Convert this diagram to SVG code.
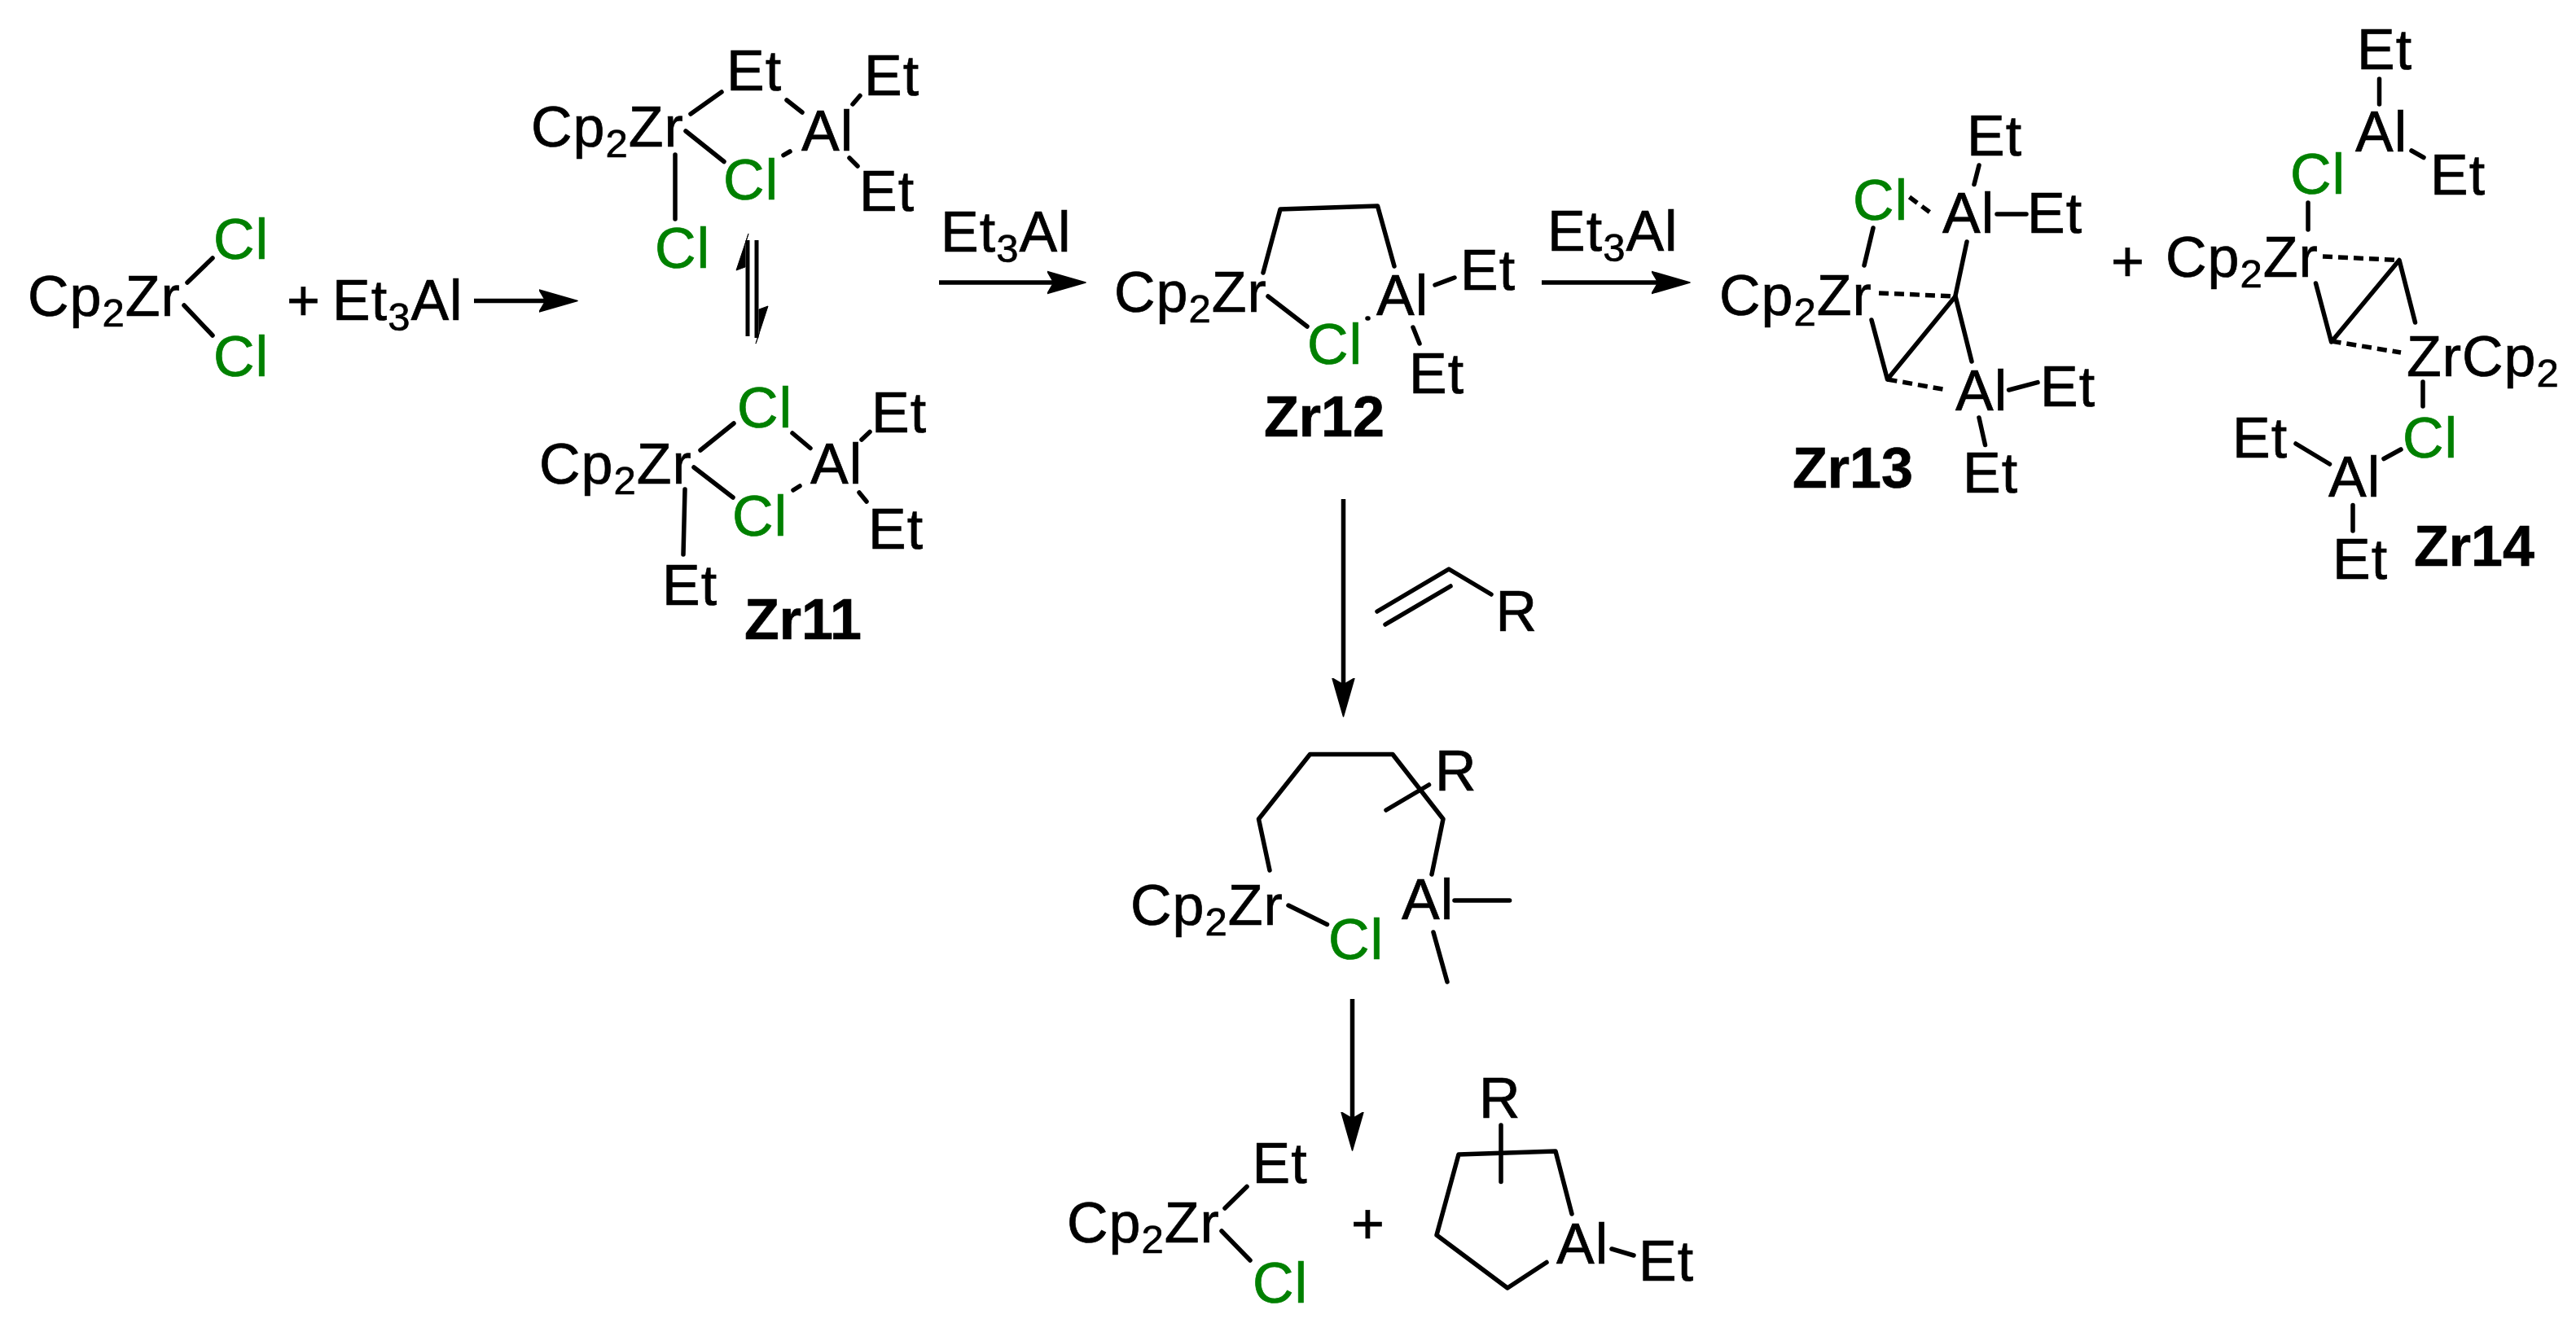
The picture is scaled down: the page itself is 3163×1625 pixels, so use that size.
<svg xmlns="http://www.w3.org/2000/svg" width="3163" height="1625" viewBox="0 0 3163 1625">
<style>
text{font-family:"Liberation Sans",Arial,sans-serif;font-size:70px;fill:#000;stroke:#000;stroke-width:.7px;letter-spacing:1px}
.g{fill:#008000;stroke:#008000}
.b{font-weight:700;letter-spacing:0}
.s{font-size:49px}
line,polyline{stroke:#000;stroke-width:5.5px;fill:none;stroke-linecap:round;stroke-linejoin:round}
.d{stroke-dasharray:12 7;stroke-linecap:butt}
.a{stroke-linecap:butt;marker-end:url(#h)}
</style>
<defs>
<marker id="h" markerUnits="userSpaceOnUse" markerWidth="60" markerHeight="40" viewBox="0 -20 60 40" refX="8" refY="0" orient="auto"><path d="M0-13.5L47 0L0 13.5L8 0Z" fill="#000" stroke="#000" stroke-width="1.5" stroke-linejoin="round"/></marker>
</defs>
<rect width="3163" height="1625" fill="#fff"/>
<g id="connectors">
<line class="a" x1="582" y1="369.5" x2="670" y2="369.5"/>
<line class="a" x1="1153" y1="347" x2="1294" y2="347"/>
<line class="a" x1="1893" y1="347" x2="2036" y2="347"/>
<line class="a" x1="1649.5" y1="613" x2="1649.5" y2="841"/>
<line class="a" x1="1660.5" y1="1227" x2="1660.5" y2="1374"/>
<line style="stroke-linecap:butt;stroke-width:5px" x1="918" y1="413" x2="918" y2="295"/><path d="M919 287L904 332L915 328V300Z" fill="#000" stroke="#000"/>
<line style="stroke-linecap:butt;stroke-width:5px" x1="929" y1="295" x2="929" y2="415"/><path d="M928 422L943 376L932 380V410Z" fill="#000" stroke="#000"/>
</g>
<g id="Cp2ZrCl2">
<text x="34" y="388">Cp<tspan class="s" dy="13">2</tspan><tspan dy="-13">Zr</tspan></text>
<text class="g" x="262" y="318">Cl</text>
<text class="g" x="262" y="462">Cl</text>
<line x1="230" y1="347" x2="261" y2="317"/>
<line x1="226" y1="375" x2="261" y2="412"/>
</g>
<g id="plus1"><text x="352" y="393">+</text></g>
<g id="reagent1"><text x="408" y="393">Et<tspan class="s" dy="13">3</tspan><tspan dy="-13">Al</tspan></text></g>
<g id="ZrEtBridged">
<text x="652" y="180">Cp<tspan class="s" dy="13">2</tspan><tspan dy="-13">Zr</tspan></text>
<text x="892" y="111">Et</text>
<text x="1061" y="117">Et</text>
<text x="984" y="185">Al</text>
<text class="g" x="888" y="244.6">Cl</text>
<text x="1055" y="259">Et</text>
<text class="g" x="804" y="329">Cl</text>
<line x1="848" y1="140" x2="886" y2="113"/>
<line x1="966" y1="123" x2="985" y2="138"/>
<line x1="1047" y1="128" x2="1056" y2="117.5"/>
<line x1="842" y1="161" x2="889" y2="198.5"/>
<line x1="962" y1="190.6" x2="970" y2="186"/>
<line x1="1043" y1="194" x2="1053" y2="204"/>
<line x1="829" y1="190" x2="829" y2="269"/>
</g>
<g id="Zr11">
<text x="662" y="594">Cp<tspan class="s" dy="13">2</tspan><tspan dy="-13">Zr</tspan></text>
<text class="g" x="905" y="525">Cl</text>
<text x="1070" y="531">Et</text>
<text x="995" y="594">Al</text>
<text class="g" x="899" y="658">Cl</text>
<text x="1066" y="674">Et</text>
<text x="813" y="743">Et</text>
<text class="b" x="914" y="785">Zr11</text>
<line x1="860" y1="553" x2="901" y2="520"/>
<line x1="973" y1="532" x2="995" y2="550.5"/>
<line x1="1058" y1="540" x2="1068" y2="530.5"/>
<line x1="852" y1="574" x2="900" y2="611"/>
<line x1="974" y1="602" x2="982" y2="597"/>
<line x1="1055" y1="605" x2="1064" y2="616"/>
<line x1="841" y1="601" x2="839" y2="681"/>
</g>
<g id="reagent2"><text x="1155" y="309">Et<tspan class="s" dy="13">3</tspan><tspan dy="-13">Al</tspan></text></g>
<g id="Zr12">
<text x="1368" y="383">Cp<tspan class="s" dy="13">2</tspan><tspan dy="-13">Zr</tspan></text>
<text class="g" x="1605" y="446.6">Cl</text>
<text x="1690" y="387">Al</text>
<text x="1793" y="356">Et</text>
<text x="1730" y="483">Et</text>
<text class="b" x="1552" y="536">Zr12</text>
<polyline points="1551,335 1572,257 1691.5,253 1712,327"/>
<line x1="1557" y1="364" x2="1605" y2="401"/>
<line x1="1679" y1="391" x2="1680" y2="391"/>
<line x1="1762" y1="350" x2="1786" y2="341"/>
<line x1="1735" y1="402" x2="1743" y2="422"/>
</g>
<g id="reagent3"><text x="1900" y="308">Et<tspan class="s" dy="13">3</tspan><tspan dy="-13">Al</tspan></text></g>
<g id="Zr13">
<text x="2111" y="387">Cp<tspan class="s" dy="13">2</tspan><tspan dy="-13">Zr</tspan></text>
<text class="g" x="2275" y="270">Cl</text>
<text x="2385" y="285.5">Al</text>
<text x="2489" y="285.5">Et</text>
<text x="2415" y="191">Et</text>
<text x="2401" y="503.5">Al</text>
<text x="2505" y="499">Et</text>
<text x="2410" y="605">Et</text>
<text class="b" x="2201" y="599">Zr13</text>
<line class="d" x1="2344.5" y1="242" x2="2374" y2="264"/>
<line x1="2430" y1="203" x2="2424" y2="226.5"/>
<line x1="2452" y1="263" x2="2488" y2="263"/>
<line x1="2300" y1="280" x2="2289" y2="326"/>
<line x1="2415" y1="297" x2="2401" y2="363"/>
<line class="d" x1="2307" y1="360" x2="2401" y2="364"/>
<polyline points="2298,393 2317.5,466 2401,364 2421,444"/>
<line class="d" x1="2317.5" y1="466" x2="2391" y2="479"/>
<line x1="2466.6" y1="479" x2="2502" y2="469.6"/>
<line x1="2430" y1="513" x2="2437.5" y2="546.5"/>
</g>
<g id="plus2"><text x="2592" y="345">+</text></g>
<g id="Zr14">
<text x="2894" y="85">Et</text>
<line x1="2921.5" y1="97" x2="2921.5" y2="128"/>
<text x="2892" y="185.5">Al</text>
<line x1="2961" y1="185" x2="2976" y2="193.5"/>
<text x="2984" y="239">Et</text>
<text class="g" x="2812" y="238">Cl</text>
<line x1="2834" y1="249" x2="2834" y2="282"/>
<text x="2659" y="340">Cp<tspan class="s" dy="13">2</tspan><tspan dy="-13">Zr</tspan></text>
<line class="d" x1="2852" y1="315" x2="2946" y2="319.5"/>
<polyline points="2843.5,348 2862.6,420 2946,319.5 2965.5,396"/>
<line class="d" x1="2862.6" y1="419" x2="2948" y2="433"/>
<text x="2955" y="461.5">ZrCp<tspan class="s" dy="13">2</tspan></text>
<line x1="2975" y1="469" x2="2975" y2="499"/>
<text class="g" x="2950" y="561.6">Cl</text>
<line x1="2927" y1="563.5" x2="2948" y2="552"/>
<text x="2859" y="610">Al</text>
<text x="2741" y="561.6">Et</text>
<line x1="2819" y1="545" x2="2860.5" y2="570"/>
<line x1="2889" y1="620.6" x2="2889" y2="652"/>
<text x="2864" y="711">Et</text>
<text class="b" x="2964" y="695">Zr14</text>
</g>
<g id="alkene">
<polyline points="1691,751 1779,699 1831,730"/>
<line x1="1701" y1="767" x2="1781" y2="720"/>
<text x="1836.5" y="775">R</text>
</g>
<g id="metallacycle">
<polyline points="1559,1069 1545.5,1006 1608.5,926.5 1710,926.5 1772,1006 1758,1074"/>
<text x="1762" y="970.6">R</text>
<line x1="1702" y1="995" x2="1754.5" y2="964"/>
<text x="1388" y="1135.5">Cp<tspan class="s" dy="13">2</tspan><tspan dy="-13">Zr</tspan></text>
<line x1="1582" y1="1112" x2="1629.5" y2="1135.5"/>
<text class="g" x="1631" y="1177.6">Cl</text>
<text x="1721" y="1129">Al</text>
<line x1="1786" y1="1106" x2="1853.6" y2="1106"/>
<line x1="1760" y1="1145" x2="1777" y2="1206"/>
</g>
<g id="product-zr">
<text x="1310" y="1526">Cp<tspan class="s" dy="13">2</tspan><tspan dy="-13">Zr</tspan></text>
<text x="1537.5" y="1452.5">Et</text>
<line x1="1504" y1="1484" x2="1531" y2="1457.5"/>
<line x1="1500" y1="1512" x2="1535" y2="1548"/>
<text class="g" x="1538" y="1600">Cl</text>
</g>
<g id="plus3"><text x="1659" y="1527">+</text></g>
<g id="product-al">
<text x="1816" y="1373">R</text>
<line x1="1843" y1="1382" x2="1843" y2="1451.5"/>
<polyline points="1930,1491 1910,1414 1791,1418 1764,1517 1851,1582 1899,1550.5"/>
<text x="1911" y="1552">Al</text>
<line x1="1979" y1="1534" x2="2006" y2="1542"/>
<text x="2012" y="1573">Et</text>
</g>
</svg>
